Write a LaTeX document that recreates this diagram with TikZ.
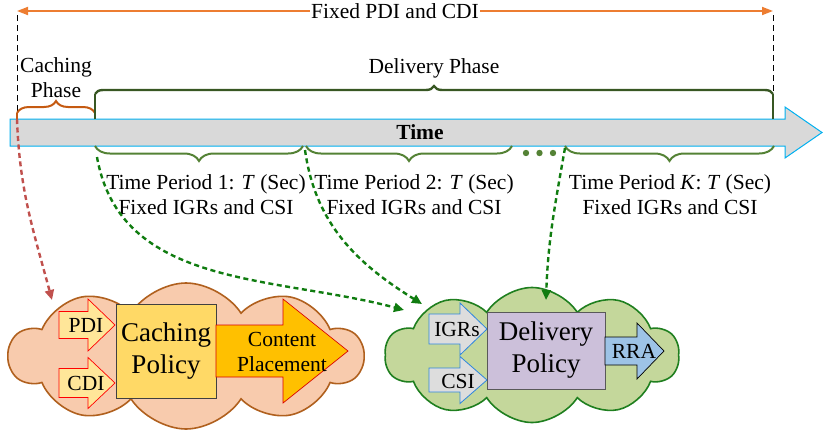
\documentclass[tikz,border=0pt]{standalone}
\usepackage{fontspec}
\setmainfont{Liberation Serif}
\usepackage{xcolor}
\usepackage{tikz}
\usetikzlibrary{positioning,shapes.symbols,arrows.meta,decorations.pathreplacing}

\definecolor{fixorange}{HTML}{ED7D31}
\definecolor{cachebrown}{HTML}{C55A11}
\definecolor{deliverdark}{HTML}{385723}
\definecolor{periodgreen}{HTML}{548235}
\definecolor{linkred}{HTML}{C0504D}
\definecolor{linkgreen}{HTML}{107C10}
\definecolor{barfill}{HTML}{D9D9D9}
\definecolor{barline}{HTML}{00B0F0}
\definecolor{cachecloud}{HTML}{F8CBAD}
\definecolor{cacheedge}{HTML}{B0601E}
\definecolor{delivcloud}{HTML}{C4D79B}
\definecolor{delivedge}{HTML}{1F7F1F}
\definecolor{infill}{HTML}{FFE699}
\definecolor{policyfill}{HTML}{FFD966}
\definecolor{placefill}{HTML}{FFC000}
\definecolor{csifill}{HTML}{DDDDDD}
\definecolor{csiedge}{HTML}{2E86DE}
\definecolor{delivfill}{HTML}{CCC0DA}
\definecolor{rrafill}{HTML}{9DC3E6}

% fat arrow: style, tail x, centre y, head start x, tip x, half shaft, half head
\newcommand{\blockarrow}[7]{%
  \draw[#1] (#2,#3-#6) -- (#4,#3-#6) -- (#4,#3-#7) -- (#5,#3)
    -- (#4,#3+#7) -- (#4,#3+#6) -- (#2,#3+#6) -- cycle;}

\begin{document}
\begin{tikzpicture}[
    x=1pt, y=-1pt,
    every node/.style={inner sep=0pt, align=center,
      font=\fontsize{21.5}{25}\selectfont},
    bigtext/.style={font=\fontsize{27}{32}\selectfont},
    phasebrace/.style={decorate, decoration={brace, amplitude=#1}},
    guide/.style={black, line width=0.8pt, dash pattern=on 6pt off 4pt},
    link/.style={line width=2.4pt, dash pattern=on 5pt off 3.5pt,
      -{Triangle[length=10pt,width=9pt]}},
    cloudbox/.style={cloud, cloud puffs=10, cloud puff arc=115,
      cloud ignores aspect, line width=1.6pt},
    policy/.style={rectangle, line width=0.8pt},
    inarrow/.style={fill=infill, draw=red, line width=0.7pt},
    csiarrow/.style={fill=csifill, draw=csiedge, line width=0.8pt}
  ]
  \useasboundingbox (0,0) rectangle (823,434);

  % time axis
  \draw[fill=barfill, draw=barline, line width=1pt]
    (10,119) -- (785,119) -- (785,107) -- (822,132.5)
    -- (785,158) -- (785,146) -- (10,146) -- cycle;
  \node[font=\fontsize{21.5}{25}\selectfont\bfseries] (time) at (420,132) {Time};

  % phase boundaries
  \coordinate (fixl) at (17,11);
  \coordinate (fixr) at (773,11);
  \coordinate (cstart) at (17,119);
  \coordinate (dstart) at (95,119);
  \coordinate (dend) at (773,119);

  \draw[guide] (17,15) -- (cstart);
  \draw[guide] (773,15) -- (dend);
  \draw[fixorange, line width=1.8pt, {Triangle[length=11pt,width=8pt]}-{Triangle[length=11pt,width=8pt]}]
    (fixl) -- (fixr);
  \node[fill=white, inner xsep=1pt] (fixed) at (395,11) {Fixed PDI and CDI};

  % caching phase
  \draw[cachebrown, line width=2pt] (cstart) -- (17,113);
  \draw[cachebrown, line width=2pt] (dstart) -- (95,113);
  \draw[cachebrown, line width=2pt, phasebrace=12] (17,113) -- (95,113);
  \node (cphase) at (56,78) {Caching\\Phase};

  % delivery phase
  \draw[deliverdark, line width=2.4pt] (dstart) -- (95,94);
  \draw[deliverdark, line width=2.4pt] (dend) -- (773,94);
  \draw[deliverdark, line width=2.4pt, phasebrace=8] (95,94) -- (773,94);
  \node (dphase) at (434,68) {Delivery Phase};

  % time periods
  \draw[periodgreen, line width=2pt, phasebrace=15] (303,146) -- (95,146);
  \draw[periodgreen, line width=2pt, phasebrace=15] (512,146) -- (306,146);
  \draw[periodgreen, line width=2pt, phasebrace=15] (774,146) -- (565,146);
  \foreach \dx in {526,539.5,553}
    \fill[periodgreen] (\dx,153) circle (3.2pt);

  \node (per1) at (206,195) {Time Period 1: \textit{T} (Sec)\\Fixed IGRs and CSI};
  \node (per2) at (414,195) {Time Period 2: \textit{T} (Sec)\\Fixed IGRs and CSI};
  \node (perk) at (670,195) {Time Period \textit{K}: \textit{T} (Sec)\\Fixed IGRs and CSI};

  % caching side
  \node[cloudbox, fill=cachecloud, draw=cacheedge,
    minimum width=354pt, minimum height=146pt] (ccloud) at (186,356) {};
  \blockarrow{inarrow}{59}{325}{88}{115}{13.5}{26}
  \blockarrow{inarrow}{59}{383}{88}{115}{14.5}{25.5}
  \node (pdi) at (86,325) {PDI};
  \node (cdi) at (86,383) {CDI};
  \node[policy, fill=policyfill, draw=black!75,
    minimum width=100pt, minimum height=94pt] (cpol) at (166,351) {};
  \node[bigtext] (cpoltext) at (cpol) {Caching\\Policy};
  \blockarrow{fill=placefill, draw=red!85!black, line width=0.7pt}{216}{351}{283}{348}{26}{52}
  \node (place) at (282,352) {Content\\Placement};

  % delivery side
  \node[cloudbox, fill=delivcloud, draw=delivedge,
    minimum width=294pt, minimum height=135pt] (dcloud) at (532,355) {};
  \blockarrow{csiarrow}{429}{329}{460}{487}{15}{26}
  \blockarrow{csiarrow}{429}{380}{460}{487}{12}{23.5}
  \node (igr) at (457,329) {IGRs};
  \node (csi) at (458,381) {CSI};
  \node[policy, fill=delivfill, draw=black!65,
    minimum width=118pt, minimum height=77pt] (dpol) at (546,350.5) {};
  \node[bigtext] (dpoltext) at (dpol) {Delivery\\Policy};
  \blockarrow{fill=rrafill, draw=black, line width=0.7pt}{605}{351}{637}{664}{14}{28}
  \node (rra) at (634,351) {RRA};

  % links from the phases to the policies
  \coordinate (p1s) at (97,157);
  \coordinate (p2s) at (305,150);
  \coordinate (pks) at (565,148);
  \coordinate (cin) at (52,300);
  \coordinate (d1in) at (404,310);
  \coordinate (d2in) at (422,304);
  \coordinate (dkin) at (546,300);
  \draw[link, linkred] (cstart) to[out=-88,in=105] (cin);
  \draw[link, linkgreen] (p1s) to[out=-80,in=165] (d1in);
  \draw[link, linkgreen] (p2s) to[out=-82,in=148] (d2in);
  \draw[link, linkgreen] (pks) to[out=-100,in=88] (dkin);

\end{tikzpicture}
\end{document}
